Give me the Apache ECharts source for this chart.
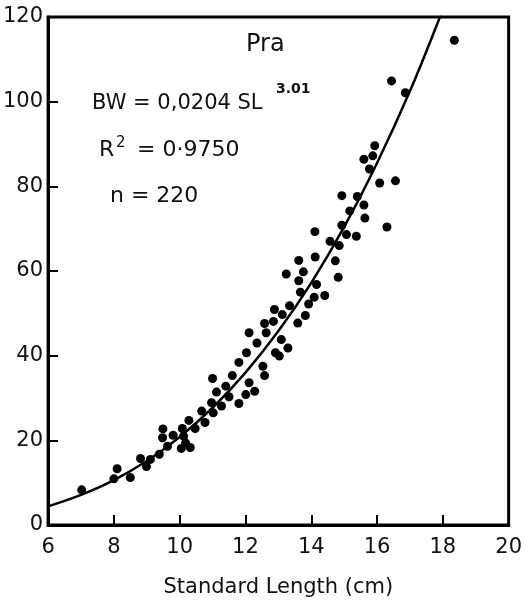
<!DOCTYPE html>
<html><head><meta charset="utf-8">
<script src="https://cdn.jsdelivr.net/npm/echarts@6/dist/echarts.min.js"></script>
<style>html,body{margin:0;padding:0;background:#fff}#c{width:525px;height:603px}</style>
</head><body><div id="c"></div>
<script>
const xTicks = [6, 8, 10, 12, 14, 16, 18, 20];
const yTicks = [0, 20, 40, 60, 80, 100, 120];
const obsSL = [7.02,8.0,8.1,8.5,8.81,8.99,9.11,9.38,9.49,9.48,9.63,9.8,10.08,10.12,10.18,10.05,10.32,10.28,10.47,10.67,10.77,10.97,11.02,11.12,11.0,11.27,11.4,11.5,11.6,11.8,11.8,12.03,12.11,12.35,12.11,12.01,12.28,12.53,12.58,12.63,12.58,12.85,12.88,13.12,13.34,13.09,12.91,13.03,13.29,13.59,13.82,13.92,14.09,14.41,13.67,13.62,13.24,13.76,13.62,14.16,14.12,14.73,14.82,14.11,14.57,14.85,14.93,15.07,15.17,15.37,15.4,15.6,15.63,14.93,16.3,16.08,16.56,15.77,15.6,15.87,15.93,16.44,16.86,18.35];
const obsBW = [8.3,10.9,13.3,11.2,15.7,13.8,15.5,16.7,22.7,20.6,18.6,21.2,22.8,21.0,19.4,18.1,18.3,24.7,22.8,26.9,24.2,28.9,26.5,31.4,34.6,28.1,32.8,30.3,35.3,28.7,38.4,40.7,45.4,43.0,33.6,30.8,31.6,37.5,35.3,45.4,47.6,48.1,50.9,49.7,51.8,43.8,40.7,39.9,41.8,47.7,49.5,52.2,53.8,54.2,55.0,57.7,59.3,59.8,62.5,56.8,63.3,62.4,58.5,69.3,67.0,66.0,70.8,68.6,74.2,68.2,77.6,75.6,72.5,77.8,70.4,80.8,81.3,84.1,86.4,87.2,89.6,104.9,102.1,114.5];
const curveSL = [6, 7, 8, 9, 10, 11, 12, 13, 14, 15, 16, 17, 18, 18.1];
const curveBW = [4.4, 7.1, 10.6, 15.1, 20.8, 27.7, 36.0, 45.8, 57.2, 70.4, 85.5, 102.5, 121.7, 123.8];
const labels = {
  title: 'Pra',
  eq: 'BW = 0,0204 SL',
  exp: '3.01',
  r2a: 'R',
  r2b: '2',
  r2c: '= 0·9750',
  n: 'n = 220',
  xName: 'Standard Length (cm)'
};

const font = '"DejaVu Sans", sans-serif';
const chart = echarts.init(document.getElementById('c'), null, {renderer: 'canvas'});
const txt = (l, t, s, size, w) => ({type: 'text', left: l, top: t, style: {text: s, fontSize: size, fontFamily: font, fontWeight: w || 'normal', fill: '#111'}});
chart.setOption({
  animation: false,
  backgroundColor: '#fff',
  grid: {left: 47, right: 14, top: 17, bottom: 77, show: true, borderColor: '#000', borderWidth: 3},
  xAxis: {
    type: 'value', min: xTicks[0], max: xTicks[xTicks.length - 1], interval: 2,
    axisLine: {lineStyle: {color: '#000', width: 3}},
    axisTick: {inside: true, length: 10, lineStyle: {color: '#000', width: 2}},
    axisLabel: {color: '#111', fontSize: 21, fontFamily: font, margin: 12},
    splitLine: {show: false},
    name: labels.xName, nameLocation: 'middle', nameGap: 52,
    nameTextStyle: {color: '#111', fontSize: 21, fontFamily: font}
  },
  yAxis: {
    type: 'value', min: yTicks[0], max: yTicks[yTicks.length - 1], interval: 20,
    axisLine: {lineStyle: {color: '#000', width: 3}},
    axisTick: {inside: true, length: 10, lineStyle: {color: '#000', width: 2}},
    axisLabel: {color: '#111', fontSize: 21, fontFamily: font, margin: 5},
    splitLine: {show: false}
  },
  series: [
    {type: 'scatter', data: obsSL.map((x, i) => [x, obsBW[i]]), symbolSize: 9,
     itemStyle: {color: '#000', opacity: 1}, z: 3},
    {type: 'line', data: curveSL.map((x, i) => [x, curveBW[i]]), smooth: 0.4, symbol: 'none',
     lineStyle: {color: '#000', width: 2.5}, clip: true, z: 4}
  ],
  graphic: [
    txt(246, 33, labels.title, 24),
    txt(92, 93, labels.eq, 21),
    txt(276, 82, labels.exp, 14, 'bold'),
    txt(99, 139, labels.r2a, 22),
    txt(116, 136, labels.r2b, 15),
    txt(137, 139, labels.r2c, 22),
    txt(110, 185, labels.n, 22)
  ]
});
</script></body></html>
